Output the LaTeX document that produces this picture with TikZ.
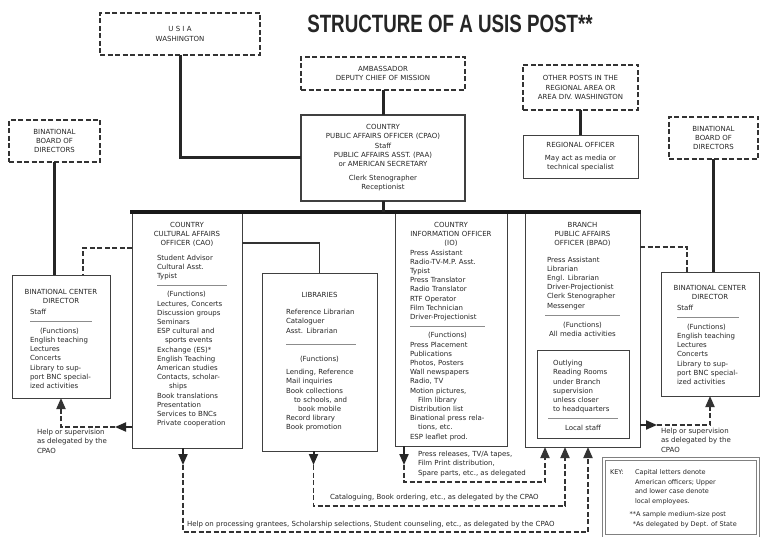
\documentclass[tikz,border=0pt]{standalone}
\usepackage{fontspec}
\usepackage{graphicx}
\setmainfont{DejaVu Sans}
\newfontfamily\titlefont{Liberation Sans}
\usetikzlibrary{arrows.meta}
\newcommand\sepl[1]{\textcolor{black!45}{\rule[2.4pt]{#1}{0.6pt}}}
\begin{document}
\begin{tikzpicture}[x=1pt,y=-1pt,
  every node/.style={inner sep=0pt,outer sep=0pt,text=black!85},
  tx/.style={font=\fontsize{7}{9.2}\selectfont},
  box/.style={draw=black!75,line width=0.9pt,anchor=north west,tx,align=center},
  dbox/.style={draw=black!80,line width=2pt,dash pattern=on 5pt off 2.5pt,anchor=north west,tx,align=center},
  conn/.style={draw=black!85,line width=3pt},
  barline/.style={draw=black!90,line width=4.5pt},
  linkline/.style={draw=black!80,line width=1.8pt},
  arr/.style={draw=black!85,line width=2pt,-{Triangle[width=9pt,length=11pt]}},
  dline/.style={draw=black!80,line width=1.8pt,dash pattern=on 5pt off 2.5pt},
  darr/.style={dline,-{Triangle[width=9pt,length=11pt]}},
  ann/.style={font=\fontsize{7}{9.5}\selectfont},
  keyf/.style={font=\fontsize{6.5}{9.5}\selectfont},
  body/.style={tx,anchor=north,text width=#1},
]
\fill[white] (0,0) rectangle (760,537);
\useasboundingbox (0,0) rectangle (760,537);

% title
\node (title) at (450,24) {\titlefont\bfseries\fontsize{25}{25}\selectfont\scalebox{0.75}[1]{STRUCTURE OF A USIS POST**}};

% top boxes
\node[dbox,minimum width=160pt,minimum height=42pt] (usia) at (100,13) {U S I A\\WASHINGTON};
\node[dbox,minimum width=164pt,minimum height=33pt] (amb) at (301,57) {AMBASSADOR\\DEPUTY CHIEF OF MISSION};
\node[box,line width=1.6pt,minimum width=164pt,minimum height=86pt] (cpao) at (301,115) {COUNTRY\\PUBLIC AFFAIRS OFFICER (CPAO)\\Staff\\PUBLIC AFFAIRS ASST. (PAA)\\or AMERICAN SECRETARY\\[5pt]Clerk Stenographer\\Receptionist};
\node[dbox,minimum width=115pt,minimum height=45pt] (op) at (523,65) {OTHER POSTS IN THE\\REGIONAL AREA OR\\AREA DIV. WASHINGTON};
\node[box,minimum width=115pt,minimum height=43pt] (reg) at (523,135) {REGIONAL OFFICER\\[4pt]May act as media or\\technical specialist};
\node[dbox,minimum width=91pt,minimum height=42pt] (lbd) at (9,120) {BINATIONAL\\BOARD OF\\DIRECTORS};
\node[dbox,minimum width=89pt,minimum height=42pt] (rbd) at (669,117) {BINATIONAL\\BOARD OF\\DIRECTORS};

% binational center directors
\node[box,minimum width=98pt,minimum height=123pt] (ldir) at (12,275) {};
\node[body=94pt] (ldirt) at (61,289.4) {\centering BINATIONAL CENTER\\DIRECTOR\par\vspace{2pt}\raggedright\leftskip=16pt Staff\\ \sepl{62pt}\\ \hspace*{10pt}(Functions)\\English teaching\\Lectures\\Concerts\\Library to sup-\\port BNC special-\\ized activities\par};
\node[box,minimum width=98pt,minimum height=124pt] (rdir) at (661,272) {};
\node[body=94pt] (rdirt) at (710,285.4) {\centering BINATIONAL CENTER\\DIRECTOR\par\vspace{2pt}\raggedright\leftskip=14pt Staff\\ \sepl{62pt}\\ \hspace*{10pt}(Functions)\\English teaching\\Lectures\\Concerts\\Library to sup-\\port BNC special-\\ized activities\par};

% CAO
\node[box,minimum width=110pt,minimum height=235pt] (cao) at (132,213) {};
\node[body=106pt] (caot) at (187,222.4) {\centering COUNTRY\\CULTURAL AFFAIRS\\OFFICER (CAO)\par\vspace{5pt}\raggedright\leftskip=23pt Student Advisor\\Cultural Asst.\\Typist\\ \sepl{70pt}\\ \hspace*{10pt}(Functions)\\Lectures, Concerts\\Discussion groups\\Seminars\\ESP cultural and\\ \hspace*{8pt}sports events\\Exchange (ES)*\\English Teaching\\American studies\\Contacts, scholar-\\ \hspace*{12pt}ships\\Book translations\\Presentation\\Services to BNCs\\Private cooperation\par};

% Libraries
\node[box,minimum width=115pt,minimum height=178pt] (lib) at (262,273) {};
\node[body=111pt] (libt) at (319.5,292.4) {\centering LIBRARIES\par\vspace{8pt}\raggedright\leftskip=22pt Reference Librarian\\Cataloguer\\Asst. Librarian\\[5pt] \sepl{70pt}\\[5pt] \hspace*{14pt}(Functions)\\[4pt]Lending, Reference\\Mail inquiries\\Book collections\\ \hspace*{8pt}to schools, and\\ \hspace*{12pt}book mobile\\Record library\\Book promotion\par};

% Information
\node[box,minimum width=112pt,minimum height=233pt] (cio) at (395,213) {};
\node[body=108pt] (ciot) at (451,222.4) {\centering COUNTRY\\INFORMATION OFFICER\\(IO)\par\raggedright\leftskip=13pt Press Assistant\\Radio-TV-M.P. Asst.\\Typist\\Press Translator\\Radio Translator\\RTF Operator\\Film Technician\\Driver-Projectionist\\ \sepl{75pt}\\ \hspace*{18pt}(Functions)\\Press Placement\\Publications\\Photos, Posters\\Wall newspapers\\Radio, TV\\Motion pictures,\\ \hspace*{8pt}Film library\\Distribution list\\Binational press rela-\\ \hspace*{8pt}tions, etc.\\ESP leaflet prod.\par};

% Branch PAO
\node[box,minimum width=115pt,minimum height=234pt] (bpao) at (525,213) {};
\node[body=111pt] (bpaot) at (582.5,222.4) {\centering BRANCH\\PUBLIC AFFAIRS\\OFFICER (BPAO)\par\vspace{7pt}\raggedright\leftskip=20pt Press Assistant\\Librarian\\Engl. Librarian\\Driver-Projectionist\\Clerk Stenographer\\Messenger\par\vspace{1pt}\centering\sepl{75pt}\\(Functions)\\All media activities\par};
\node[box,minimum width=92pt,minimum height=88pt] (rr) at (537,350) {};
\node[body=88pt] (rrt) at (583,360.4) {\raggedright\leftskip=14pt Outlying\\Reading Rooms\\under Branch\\supervision\\unless closer\\to headquarters\par\centering\sepl{70pt}\\Local staff\par};

% key
\node[draw=black!50,line width=0.8pt,double,double distance=1.5pt,anchor=north west,minimum width=154pt,minimum height=77pt] (key) at (604,459) {};
\node[keyf,anchor=north west] (keyl) at (610,470) {KEY:};
\node[keyf,anchor=north west,align=left] (keyt) at (635,470) {Capital letters denote\\American officers; Upper\\and lower case denote\\local employees.};
\node[keyf,anchor=north west,align=left] (keyn) at (636,512) {\llap{**}A sample medium-size post\\\llap{*}As delegated by Dept. of State};

% main bar and solid connectors
\coordinate (barL) at (130,212);
\coordinate (barR) at (641,212);
\draw[barline] (barL) -- (barR);
\draw[conn] (cpao.south) -- (cpao.south |- barL);
\draw[conn] (usia.south) |- (cpao.west);
\draw[conn] (amb.south) -- (cpao.north);
\draw[conn] (op.south) -- (reg.north);
\draw[conn] (lbd.south) -- (lbd.south |- ldir.north);
\draw[conn] (rbd.south) -- (rbd.south |- rdir.north);
\draw[linkline] (cao.east |- 0,243) -| (lib.north);

% dashed links to binational centers
\draw[dline] (cao.west |- 0,248) -| ([xshift=22pt]ldir.north);
\draw[dline] (bpao.east |- 0,247) -| ([xshift=-23pt]rdir.north);

% help or supervision arrows
\draw[arr] (cao.west |- 0,427) -- ++(-17,0) coordinate (la);
\draw[darr] (la) -| (ldir.south);
\draw[arr] (bpao.east |- 0,425) -- ++(17,0) coordinate (ra);
\draw[darr] (ra) -| (rdir.south);
\node[ann,anchor=north west,align=left] (lhelp) at (37,429) {Help or supervision\\as delegated by the\\CPAO};
\node[ann,anchor=north west,align=left] (rhelp) at (661,428) {Help or supervision\\as delegated by the\\CPAO};

% bottom arrows to branch
\coordinate (b1) at ([xshift=-37.5pt]bpao.south);
\coordinate (b2) at ([xshift=-17.5pt]bpao.south);
\coordinate (b3) at ([xshift=5.5pt]bpao.south);
\draw[arr] ([xshift=-4pt]cao.south) -- ++(0,17) coordinate (ca);
\draw[darr] (ca) -- (ca |- 0,532) -| (b3);
\draw[arr] ([xshift=-6pt]lib.south) -- ++(0,14) coordinate (lb);
\draw[darr] (lb) -- (lb |- 0,506) -| (b2);
\draw[arr] ([xshift=-47pt]cio.south) -- ++(0,19) coordinate (ia);
\draw[darr] (ia) -- (ia |- 0,482) -| (b1);

\node[ann,anchor=north west,align=left] (t1) at (418,451) {Press releases, TV/A tapes,\\Film Print distribution,\\Spare parts, etc., as delegated};
\node[ann,anchor=west] (t2) at (330,498) {Cataloguing, Book ordering, etc., as delegated by the CPAO};
\node[ann,anchor=west] (t3) at (187,525) {Help on processing grantees, Scholarship selections, Student counseling, etc., as delegated by the CPAO};
\end{tikzpicture}
\end{document}
